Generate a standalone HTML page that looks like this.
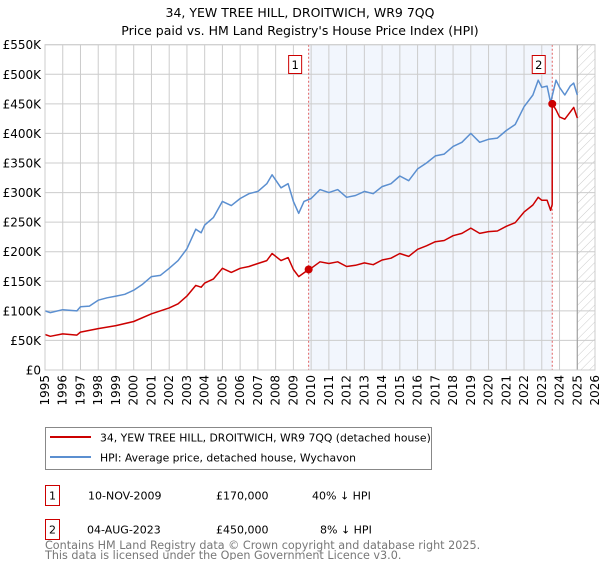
<!DOCTYPE html>
<html><head><meta charset="utf-8"><style>
body{margin:0;background:#fff;font-family:"DejaVu Sans","Liberation Sans",sans-serif;}
svg text{font-family:"DejaVu Sans","Liberation Sans",sans-serif;}
</style></head><body>
<svg id="c" width="600" height="560" xmlns="http://www.w3.org/2000/svg">
<defs><pattern id="hatch" width="6" height="6" patternUnits="userSpaceOnUse" patternTransform="rotate(45)"><line x1="0" y1="0" x2="0" y2="6" stroke="#ccc" stroke-width="1"/></pattern></defs>
<text x="300" y="17" text-anchor="middle" font-size="12.5">34, YEW TREE HILL, DROITWICH, WR9 7QQ</text>
<text x="300" y="35" text-anchor="middle" font-size="12.5">Price paid vs. HM Land Registry's House Price Index (HPI)</text>
<g id="plot"></g>
<g>
<rect x="45.5" y="427.5" width="386" height="42" fill="#fff" stroke="#888"/>
<line x1="50" y1="437" x2="91" y2="437" stroke="#cc0000" stroke-width="2"/>
<text x="100" y="441.5" font-size="10.8">34, YEW TREE HILL, DROITWICH, WR9 7QQ (detached house)</text>
<line x1="50" y1="457" x2="91" y2="457" stroke="#5b8fd0" stroke-width="2"/>
<text x="100" y="461.5" font-size="10.8">HPI: Average price, detached house, Wychavon</text>
</g>
<g font-size="11">
<rect x="45.5" y="485.5" width="14" height="20" fill="#fff" stroke="#cc0000"/><text x="52.5" y="499.5" text-anchor="middle">1</text>
<text x="88" y="499.5">10-NOV-2009</text><text x="216" y="499.5">£170,000</text><text x="312" y="499.5">40% ↓ HPI</text>
<rect x="45.5" y="519.5" width="14" height="20" fill="#fff" stroke="#cc0000"/><text x="52.5" y="533.5" text-anchor="middle">2</text>
<text x="87" y="533.5">04-AUG-2023</text><text x="216" y="533.5">£450,000</text><text x="320" y="533.5">8% ↓ HPI</text>
</g>
<text x="45" y="549" font-size="11.2" fill="#777">Contains HM Land Registry data © Crown copyright and database right 2025.</text>
<text x="45" y="559" font-size="11.2" fill="#777">This data is licensed under the Open Government Licence v3.0.</text>
</svg>
<script>
const hpiYears=[1995,1995.3,1996,1996.8,1997,1997.5,1998,1998.5,1999,1999.5,2000,2000.5,2001,2001.5,2002,2002.5,2003,2003.5,2003.8,2004,2004.5,2005,2005.5,2006,2006.5,2007,2007.5,2007.8,2008.3,2008.7,2009,2009.3,2009.6,2010,2010.5,2011,2011.5,2012,2012.5,2013,2013.5,2014,2014.5,2015,2015.5,2016,2016.5,2017,2017.5,2018,2018.5,2019,2019.5,2020,2020.5,2021,2021.5,2022,2022.5,2022.8,2023,2023.3,2023.5,2023.8,2024,2024.3,2024.6,2024.8,2025];
const hpiValues=[100,97,102,100,107,108,118,122,125,128,135,145,158,160,172,185,205,238,232,245,258,285,278,290,298,302,315,330,308,315,285,265,285,290,305,300,305,292,295,302,298,310,315,328,320,340,350,362,365,378,385,400,385,390,392,405,415,445,465,490,478,480,452,490,478,465,480,485,465];
const propYears=[1995,1995.3,1996,1996.8,1997,1998,1999,2000,2001,2002,2002.5,2003,2003.5,2003.8,2004,2004.5,2005,2005.5,2006,2006.5,2007,2007.5,2007.8,2008.3,2008.7,2009,2009.3,2009.86,2010,2010.5,2011,2011.5,2012,2012.5,2013,2013.5,2014,2014.5,2015,2015.5,2016,2016.5,2017,2017.5,2018,2018.5,2019,2019.5,2020,2020.5,2021,2021.5,2022,2022.5,2022.8,2023,2023.3,2023.5,2023.59,2023.59,2023.8,2024,2024.3,2024.6,2024.8,2025];
const propValues=[60,57,61,59,64,70,75,82,95,105,112,125,143,140,147,154,172,165,172,175,180,185,197,185,190,170,158,170,172,183,180,183,175,177,181,178,186,189,197,192,204,210,217,219,227,231,240,231,234,235,243,249,267,279,292,287,287,270,280,450,440,428,424,436,444,426];
const saleYears=[2009.86,2023.59];
const saleValues=[170,450];
const saleLabels=["1","2"];
const yTicks=[0,50,100,150,200,250,300,350,400,450,500,550];
const xTicks=[1995,1996,1997,1998,1999,2000,2001,2002,2003,2004,2005,2006,2007,2008,2009,2010,2011,2012,2013,2014,2015,2016,2017,2018,2019,2020,2021,2022,2023,2024,2025,2026];
const X0=45,X1=595,Y0=370,Y1=44.7;
const xs=y=>X0+(y-1995)/(2026-1995)*(X1-X0);
const ys=v=>Y0-v/550*(Y0-Y1);
const NS="http://www.w3.org/2000/svg";
const g=document.getElementById('plot');
function mk(t,a,p){const e=document.createElementNS(NS,t);for(const k in a)e.setAttribute(k,a[k]);(p||g).appendChild(e);return e;}
let e;
e=mk('rect',{x:X0,y:Y1,width:X1-X0,height:Y0-Y1,fill:'#fff'});


e=mk('rect',{x:xs(saleYears[0]),y:Y1,width:xs(saleYears[1])-xs(saleYears[0]),height:Y0-Y1,fill:'#f2f6fd'});


e=mk('rect',{x:xs(2025),y:Y1,width:X1-xs(2025),height:Y0-Y1,fill:'url(#hatch)'});


xTicks.forEach(t=>{
 e=mk('line',{x1:xs(t),x2:xs(t),y1:Y1,y2:Y0,stroke:'#ccc'});
 
 
 e=mk('text',{x:0,y:0,'font-size':12,'text-anchor':'end',transform:`translate(${xs(t)+4},${Y0+5}) rotate(-90)`});
 e.textContent=t;
 
 
});
yTicks.forEach(t=>{
 e=mk('line',{x1:X0,x2:X1,y1:ys(t),y2:ys(t),stroke:'#ccc'});
 
 
 e=mk('text',{x:X0-4,y:ys(t)+4.5,'font-size':12,'text-anchor':'end'});
 e.textContent=t===0?'£0':'£'+t+'K';
 
 
});
e=mk('line',{x1:xs(2025),x2:xs(2025),y1:Y1,y2:Y0,stroke:'#999'});


saleYears.forEach((y,i)=>{
 e=mk('line',{x1:xs(y),x2:xs(y),y1:Y1,y2:Y0,stroke:'#e06060','stroke-dasharray':'2,2'});
 
 
});
function line(xa,va,col,name){
 const d=xa.map((x,i)=>(i?'L':'M')+xs(x).toFixed(1)+','+ys(va[i]).toFixed(1)).join('');
 e=mk('path',{d:d,fill:'none',stroke:col,'stroke-width':1.5,'stroke-linejoin':'round'});
 
 
}
line(hpiYears,hpiValues,'#5b8fd0','hpi-line');
line(propYears,propValues,'#cc0000','property-line');
saleYears.forEach((y,i)=>{
 e=mk('circle',{cx:xs(y),cy:ys(saleValues[i]),r:4,fill:'#cc0000'});
 
 
 e=mk('rect',{x:xs(y)-20,y:55.5,width:13,height:18,fill:'#fff',stroke:'#cc0000'});
 
 
 e=mk('text',{x:xs(y)-13.5,y:69,'font-size':11.5,'text-anchor':'middle'});
 e.textContent=saleLabels[i];
 
 
});
e=mk('rect',{x:X0,y:Y1,width:X1-X0,height:Y0-Y1,fill:'none',stroke:'#ccc'});


</script>
</body></html>
